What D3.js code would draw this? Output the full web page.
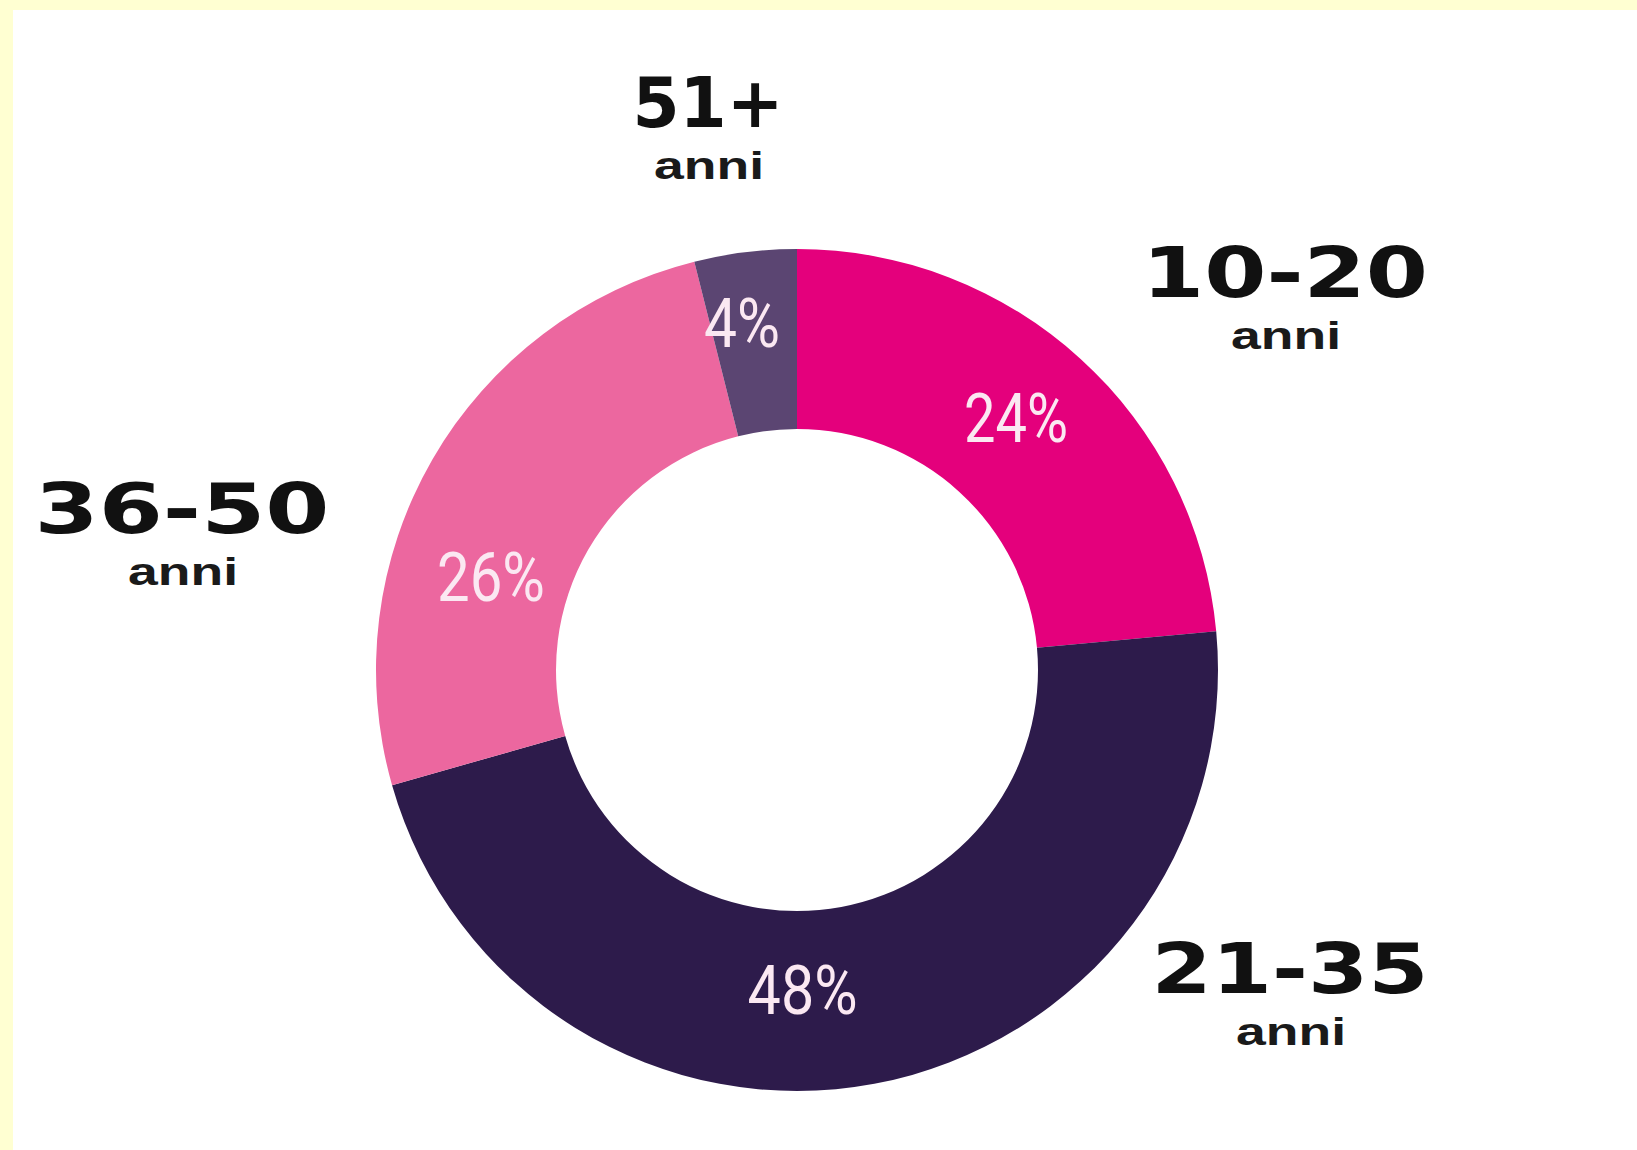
<!DOCTYPE html>
<html>
<head>
<meta charset="utf-8">
<script src="https://cdnjs.cloudflare.com/ajax/libs/d3/7.8.5/d3.min.js"></script>
<style>
  html, body { margin: 0; padding: 0; background: #ffffd2; }
  #chart { display: block; }
</style>
</head>
<body>
<div id="chart"></div>
<script>
// data
var ageGroups = ["10-20", "21-35", "36-50", "51+"];
var shares = [24, 48, 26, 4];
var shareLabels = ["24%", "48%", "26%", "4%"];
var sliceColors = ["#e4007c", "#2d1b4b", "#ec679f", "#5b4572"];

// layout (label placement only)
var pctAngle = [41, 179, 287, 351],    // degrees, clockwise from top
    pctRadius = [334, 320, 320, 352];
var nameX = [1285, 1290, 182, 708],
    nameY = [297, 993, 533, 127];
var nameWidth = [286, 277, 295, 151];
var pctWidth = [104, 110, 108, 76];

var width = 1637, height = 1150;
var cx = 797, cy = 670;
var outerR = 421, innerR = 241;

var svg = d3.select("#chart")
  .append("svg")
  .attr("width", width)
  .attr("height", height);

// white card, yellow strip on top and left
svg.append("rect")
  .attr("x", 13).attr("y", 10)
  .attr("width", width - 13).attr("height", height - 10)
  .attr("fill", "#ffffff");

var g = svg.append("g")
  .attr("transform", "translate(" + cx + "," + cy + ")");

var pie = d3.pie()
  .value(function(d) { return d; })
  .sort(null);

var arc = d3.arc()
  .innerRadius(innerR)
  .outerRadius(outerR);

g.selectAll("path")
  .data(pie(shares))
  .enter()
  .append("path")
  .attr("d", arc)
  .attr("fill", function(d, i) { return sliceColors[i]; });

// percentages inside the slices
g.selectAll(".pct")
  .data(shareLabels)
  .enter()
  .append("text")
  .attr("class", "pct")
  .attr("x", function(d, i) { return pctRadius[i] * Math.sin(pctAngle[i] * Math.PI / 180); })
  .attr("y", function(d, i) { return -pctRadius[i] * Math.cos(pctAngle[i] * Math.PI / 180); })
  .attr("dy", "0.36em")
  .attr("text-anchor", "middle")
  .attr("textLength", function(d, i) { return pctWidth[i]; })
  .attr("lengthAdjust", "spacingAndGlyphs")
  .style("font-family", "Roboto, 'Liberation Sans', sans-serif")
  .style("font-weight", "400")
  .style("font-size", "68px")
  .style("fill", "#fbe8f2")
  .text(function(d) { return d; });

// age group names
var names = svg.selectAll(".name")
  .data(ageGroups)
  .enter()
  .append("g")
  .attr("class", "name");

names.append("text")
  .attr("x", function(d, i) { return nameX[i]; })
  .attr("y", function(d, i) { return nameY[i]; })
  .attr("text-anchor", "middle")
  .attr("textLength", function(d, i) { return nameWidth[i]; })
  .attr("lengthAdjust", "spacingAndGlyphs")
  .style("font-family", "'DejaVu Sans', sans-serif")
  .style("font-weight", "bold")
  .style("font-size", "70px")
  .style("fill", "#111111")
  .text(function(d) { return d; });

names.append("text")
  .attr("x", function(d, i) { return nameX[i] + 1; })
  .attr("y", function(d, i) { return nameY[i] + 52; })
  .attr("text-anchor", "middle")
  .attr("textLength", 110)
  .attr("lengthAdjust", "spacingAndGlyphs")
  .style("font-family", "'Liberation Sans', Arial, sans-serif")
  .style("font-weight", "bold")
  .style("font-size", "39px")
  .style("fill", "#1a1a1a")
  .text("anni");
</script>
</body>
</html>
